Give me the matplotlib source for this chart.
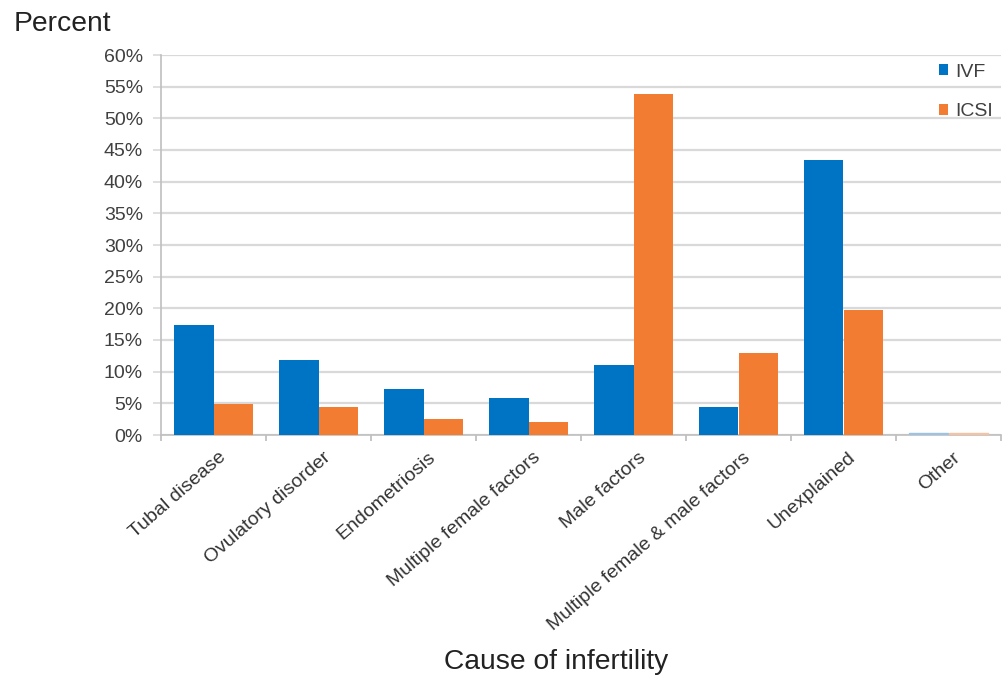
import numpy as np
import matplotlib
matplotlib.use('Agg')
import matplotlib.pyplot as plt
from matplotlib.ticker import MultipleLocator, FixedLocator, PercentFormatter

# data (percent)
causes = ['Tubal disease', 'Ovulatory disorder', 'Endometriosis',
          'Multiple female factors', 'Male factors',
          'Multiple female & male factors', 'Unexplained', 'Other']
ivf = [17.3, 11.8, 7.3, 5.8, 11.1, 4.5, 43.4, 0.25]
icsi = [4.9, 4.5, 2.6, 2.0, 53.8, 13.0, 19.8, 0.25]

blue = '#0074C4'
orange = '#F27C32'
grid_col = '#D9D9D9'

plt.rcParams['font.family'] = ['Liberation Sans', 'DejaVu Sans']

fig = plt.figure(figsize=(10.02, 6.78), dpi=100)
ax = fig.add_axes([161/1002, 1 - 435/678, 840/1002, 380/678])

x = np.arange(len(causes))
w = 0.38
ax.bar(x - w/2, ivf, w, color=blue, label='IVF', zorder=3)
ax.bar(x + w/2, icsi, w, color=orange, label='ICSI', zorder=3)
# the 'Other' bars are faint in the reference
ax.patches[7].set_color('#9CC3E4')
ax.patches[15].set_color('#F5C2A4')

ax.set_xlim(-0.5, len(causes) - 0.5)
ax.set_ylim(0, 60)
ax.yaxis.set_major_locator(MultipleLocator(5))
ax.yaxis.set_major_formatter(PercentFormatter(decimals=0))
ax.grid(axis='y', color=grid_col, linewidth=1.6, zorder=0)
ax.tick_params(axis='y', length=6, width=1.2, color=grid_col, pad=7,
               labelsize=14, labelcolor='#404040')

ax.set_xticks(x + 0.04)
ax.set_xticklabels(causes, rotation=41, ha='right', rotation_mode='anchor',
                   fontsize=14, color='#333333')
ax.tick_params(axis='x', which='major', length=0, pad=10)
ax.xaxis.set_minor_locator(FixedLocator(np.arange(-0.5, len(causes), 1.0)))
ax.tick_params(axis='x', which='minor', length=4, width=1.2, color='#BBBBBB')

for side in ['top', 'right']:
    ax.spines[side].set_visible(False)
ax.spines['left'].set_color('#BFBFBF')
ax.spines['bottom'].set_color('#BFBFBF')
ax.spines['left'].set_linewidth(1.2)
ax.spines['bottom'].set_linewidth(1.2)

leg = ax.legend(loc='upper left', bbox_to_anchor=(929/1002, 1 - 54/678),
                bbox_transform=fig.transFigure, frameon=False,
                handlelength=0.5, handleheight=0.5, handletextpad=0.35,
                labelspacing=1.15, fontsize=14, borderpad=0)
for t in leg.get_texts():
    t.set_color('#404040')

fig.text(14/1002, 1 - 31/678, 'Percent', fontsize=20.3, color='#222222',
         va='baseline')
fig.text(556/1002, 1 - 669/678, 'Cause of infertility', fontsize=20.3,
         color='#222222', ha='center', va='baseline')

fig.savefig('out.png', dpi=100)
